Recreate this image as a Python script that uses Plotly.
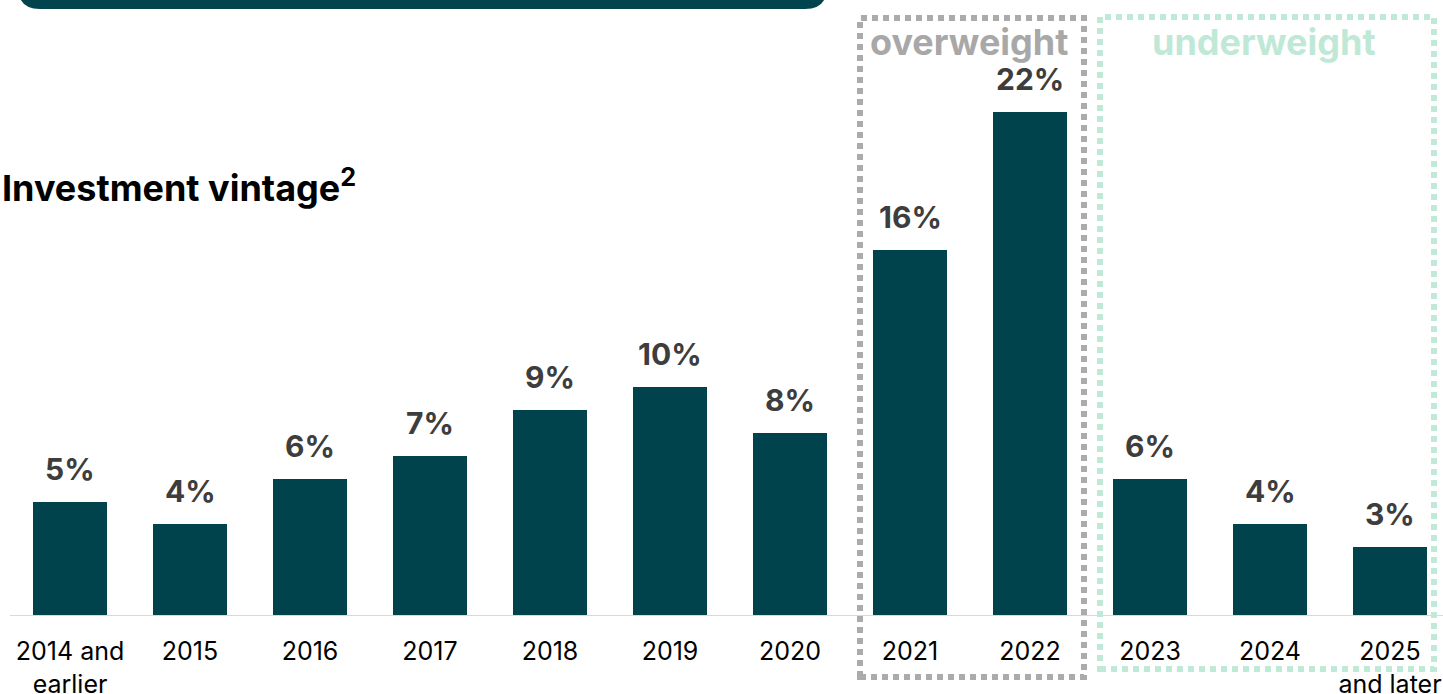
import plotly.graph_objects as go

categories = ["2014 and<br>earlier", "2015", "2016", "2017", "2018", "2019", "2020",
              "2021", "2022", "2023", "2024", "2025<br>and later"]
values = [5, 4, 6, 7, 9, 10, 8, 16, 22, 6, 4, 3]
labels = ["5%", "4%", "6%", "7%", "9%", "10%", "8%", "16%", "22%", "6%", "4%", "3%"]

W, H = 1443, 694
MB = 78
PH = H - MB  # plot height in px


def px_x(px):
    return px / W


def px_y(py):
    return (PH - py) / PH


BAR = "#01434D"
x = list(range(len(categories)))

fig = go.Figure()
fig.add_trace(go.Bar(x=x, y=values, marker=dict(color=BAR, line=dict(width=0)),
                     width=0.62, hoverinfo="skip"))

for xi, v, t in zip(x, values, labels):
    fig.add_annotation(x=xi, y=v, text=t, showarrow=False, yanchor="bottom",
                       yshift=13, font=dict(family="Inter", size=30, color="#3d3d3d", weight="bold"))

shapes = []
# baseline
shapes.append(dict(type="line", xref="x", yref="y", x0=-0.5, x1=11.6, y0=0, y1=0,
                   line=dict(color="#d9d9d9", width=2), layer="above"))

# top rounded banner
x0, x1, yb, r = 18, 827, 9, 22
path = f"M {px_x(x0)},{px_y(-40)} L {px_x(x0)},{px_y(yb - r)} " \
       f"Q {px_x(x0)},{px_y(yb)} {px_x(x0 + r)},{px_y(yb)} " \
       f"L {px_x(x1 - r)},{px_y(yb)} Q {px_x(x1)},{px_y(yb)} {px_x(x1)},{px_y(yb - r)} " \
       f"L {px_x(x1)},{px_y(-40)} Z"
shapes.append(dict(type="path", xref="paper", yref="paper", path=path,
                   fillcolor="#02444E", line=dict(width=0)))

# dotted boxes
shapes.append(dict(type="rect", xref="paper", yref="paper",
                   x0=px_x(860), x1=px_x(1084), y0=px_y(677), y1=px_y(18),
                   line=dict(color="#ababab", width=6, dash="6px,5px")))
shapes.append(dict(type="rect", xref="paper", yref="paper",
                   x0=px_x(1100), x1=px_x(1434), y0=px_y(669), y1=px_y(17),
                   line=dict(color="#c0ead8", width=6, dash="6px,5px")))

annotations = [
    dict(xref="paper", yref="paper", x=px_x(0), y=px_y(186), xanchor="left", yanchor="middle",
         text="Investment vintage<sup>2</sup>", showarrow=False,
         font=dict(family="Inter", size=36, color="#000000", weight="bold")),
    dict(xref="paper", yref="paper", x=px_x(969), y=px_y(42), xanchor="center", yanchor="middle",
         text="overweight", showarrow=False,
         font=dict(family="Inter", size=36, color="#a8a8a8", weight="bold")),
    dict(xref="paper", yref="paper", x=px_x(1264), y=px_y(42), xanchor="center", yanchor="middle",
         text="underweight", showarrow=False,
         font=dict(family="Inter", size=36, color="#bfe9d6", weight="bold")),
]
for a in annotations:
    fig.add_annotation(**a)

fig.update_layout(
    width=W, height=H,
    margin=dict(l=0, r=0, t=0, b=MB, pad=0, autoexpand=False),
    paper_bgcolor="white", plot_bgcolor="white",
    showlegend=False, bargap=0,
    shapes=shapes,
    xaxis=dict(range=[-70 / 120, (W - 70) / 120], tickmode="array", tickvals=x, ticktext=categories,
               showgrid=False, zeroline=False, showline=False, ticks="", automargin=False,
               ticklabelstandoff=18,
               tickfont=dict(family="Inter", size=25, color="#000000")),
    yaxis=dict(range=[0, PH / 22.9], visible=False, showgrid=False, zeroline=False),
)

fig.write_html("out.html")
